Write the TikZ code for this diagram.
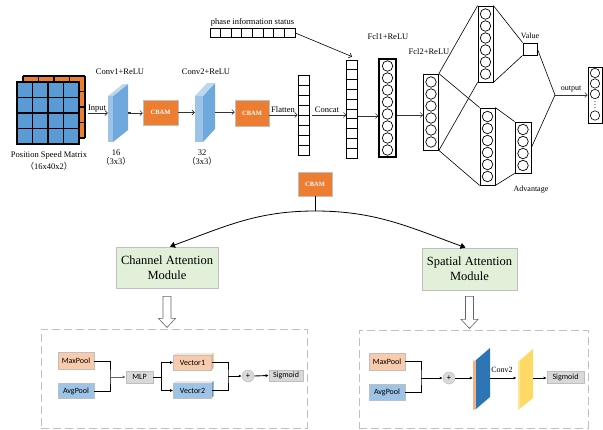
\documentclass[tikz,border=0pt]{standalone}
\usepackage{fontspec}
\setmainfont{Liberation Serif}
\newfontfamily\calfont{Carlito}
\newfontfamily\cjkfont{Noto Sans CJK SC}
\usetikzlibrary{arrows.meta,calc}
\definecolor{mblue}{HTML}{5B9BD5}
\definecolor{morange}{HTML}{ED7D31}
\definecolor{lblue}{HTML}{9DC3E6}
\definecolor{tblue}{HTML}{BDD7EE}
\definecolor{sblue}{HTML}{6FA8DC}
\definecolor{peach}{HTML}{F8CBAD}
\definecolor{lpeach}{HTML}{FBE5D6}
\definecolor{dpeach}{HTML}{F4B183}
\definecolor{vlblue}{HTML}{DEEBF7}
\definecolor{lgray}{HTML}{D9D9D9}
\definecolor{bgray}{HTML}{BFBFBF}
\definecolor{lgreen}{HTML}{E2F0D9}
\definecolor{dblue}{HTML}{2E75B6}
\definecolor{myellow}{HTML}{FFD966}
\definecolor{lyellow}{HTML}{FFE699}
\begin{document}
\begin{tikzpicture}[x=1pt,y=-1pt,
  lbl/.style={font=\fontsize{8.5}{9}\selectfont, inner sep=0pt},
  slbl/.style={font=\fontsize{8}{9}\selectfont, inner sep=0pt},
  cbam/.style={fill=morange, draw=bgray, line width=0.5pt, font=\fontsize{6.5}{7}\selectfont\bfseries, text=white, inner sep=0pt},
  ghost/.style={inner sep=0pt},
  col/.style={draw, line width=0.8pt, fill=white, inner sep=0pt},
  fcbox/.style={draw, line width=1.2pt, fill=white, inner sep=0pt},
  neuron/.style={circle, draw, line width=0.7pt, minimum size=10.5pt, inner sep=0pt},
  oneuron/.style={circle, draw, line width=0.6pt, minimum size=9.4pt, inner sep=0pt},
  arr/.style={draw=black!80, line width=0.6pt, -{Straight Barb[length=2.5pt,width=5pt]}},
  conn/.style={line width=0.6pt},
  mod/.style={draw=bgray, fill=lgreen, line width=0.8pt, align=center, inner sep=0pt, font=\fontsize{12.5}{15}\selectfont},
  hollow/.style={draw=black!60, fill=white, line width=0.6pt},
  dashbox/.style={draw=bgray, line width=0.9pt, dash pattern=on 8pt off 4pt, inner sep=0pt},
  sbox/.style={draw=bgray, line width=0.6pt, inner sep=0pt, font=\calfont\fontsize{8}{8}\selectfont},
  blk/.style={line width=0.9pt},
  barr/.style={line width=0.9pt, -{Latex[length=3pt,width=3pt]}},
  plus/.style={circle, fill=lgray, draw=bgray, line width=0.5pt, minimum size=12pt, inner sep=0pt, font=\calfont\fontsize{8.5}{8.5}\selectfont},
  bigarr/.style={line width=0.8pt, -{Triangle[length=5pt,width=6pt]}}
]
\useasboundingbox (0,0) rectangle (603,429);

% ---------- input matrix
\fill[morange] (23,76) rectangle (85,138);
\foreach \i in {0,...,4}{
  \draw[line width=1.1pt] ({23+15.5*\i},76) -- ({23+15.5*\i},138);
  \draw[line width=1.1pt] (23,{76+15.5*\i}) -- (85,{76+15.5*\i});
}
\node[draw,line width=1.1pt,fill=mblue,minimum size=62pt,inner sep=0pt] (mat) at (48,113) {};
\foreach \i in {1,2,3}{
  \draw[line width=1.1pt] ({17+15.5*\i},82) -- ({17+15.5*\i},144);
  \draw[line width=1.1pt] (17,{82+15.5*\i}) -- (79,{82+15.5*\i});
}
\node[lbl] (matl) at (49,155) {Position Speed Matrix};
\node[lbl] (matd) at (49,166) {{\cjkfont （}16x40x2{\cjkfont ）}};

% ---------- conv1
\node[ghost,minimum width=20pt,minimum height=58pt] (c1) at (118,113) {};
\fill[lblue] (108,96) rectangle (113,142);
\fill[sblue] (113,96) -- (128,84) -- (128,130) -- (113,142) -- cycle;
\fill[tblue] (108,96) -- (113,96) -- (128,84) -- (123,84) -- cycle;
\node[lbl] (c1l) at (120,72) {Conv1+ReLU};
\node[lbl] (c1n) at (116,153) {16};
\node[lbl] (c1k) at (116,161) {{\cjkfont （}3x3{\cjkfont ）}};

% ---------- conv2
\node[ghost,minimum width=20pt,minimum height=59pt] (c2) at (205,112) {};
\fill[lblue] (195,96) rectangle (203,142);
\fill[sblue] (203,96) -- (215,83) -- (215,129) -- (203,142) -- cycle;
\fill[tblue] (195,96) -- (203,96) -- (215,83) -- (207,83) -- cycle;
\node[lbl] (c2l) at (206,72) {Conv2+ReLU};
\node[lbl] (c2n) at (202,153) {32};
\node[lbl] (c2k) at (202,161) {{\cjkfont （}3x3{\cjkfont ）}};

% ---------- CBAM blocks
\node[cbam,minimum width=35pt,minimum height=25pt] (cb1) at (160.5,112.5) {CBAM};
\node[cbam,minimum width=34pt,minimum height=26pt] (cb2) at (252,113) {CBAM};

% ---------- flatten column
\node[col,minimum width=11pt,minimum height=80pt] (flat) at (303.5,115) {};
\foreach \k in {1,...,7} \draw[line width=0.8pt] (298,{75+10*\k}) -- (309,{75+10*\k});

% ---------- concat column
\node[col,minimum width=10.5pt,minimum height=98pt] (cat) at (352,109) {};
\foreach \k in {1,...,9} \draw[line width=0.8pt] (346.75,{60+9.8*\k}) -- (357.25,{60+9.8*\k});

% ---------- phase row
\node[col,minimum width=85pt,minimum height=9pt] (phase) at (252.5,33) {};
\foreach \k in {1,...,7} \draw[line width=0.8pt] ({210+85/8*\k},28.5) -- ({210+85/8*\k},37.5);
\node[lbl] (phasel) at (252.5,22) {phase information status};

% ---------- arrows top row
\draw[arr] ([xshift=8pt]mat.east) -- (c1.west);
\node[lbl,anchor=base] (inl) at (97,110) {Input};
\draw[arr,{Square[length=2pt,width=2pt]}-{Straight Barb[length=2.5pt,width=5pt]}] (c1.east) -- (c1.east -| cb1.west);
\draw[arr] (cb1.east) -- (cb1.east -| c2.west);
\draw[arr] (c2.east) -- (c2.east -| cb2.west);
\draw[arr] (cb2.east |- flat.west) -- (flat.west);
\node[lbl,anchor=base] (flatl) at (283,112) {Flatten};
\draw[arr] ([xshift=3pt]flat.east) -- (flat.east -| cat.west);
\node[lbl,anchor=base] (catl) at (327,112) {Concat};
\draw[arr,draw=black] (phase.east) -- ([yshift=3pt]cat.north);

% ---------- FC1
\node[fcbox,minimum width=17pt,minimum height=98pt] (fc1) at (387.5,108) {};
\foreach \k in {0,...,7} \node[neuron] (fa\k) at (387.5,{66+12*\k}) {};
\node[lbl] (fc1l) at (388,37) {Fcl1+ReLU};
\draw[arr] ([yshift=-7pt]cat.east) -- ([yshift=-7pt]cat.east -| fc1.west);

% ---------- FC2
\node[col,minimum width=15pt,minimum height=76pt] (fc2) at (431,112) {};
\foreach \k in {0,...,5} \node[neuron] (fb\k) at (431,{82+12*\k}) {};
\node[lbl] (fc2l) at (429,52) {Fcl2+ReLU};
\draw[arr] ([yshift=-3pt]fc2.west -| fc1.east) -- ([yshift=-3pt]fc2.west);

% ---------- value stream
\node[col,minimum width=15pt,minimum height=76pt] (vh) at (485.5,44) {};
\foreach \k in {0,...,5} \node[neuron] (fv\k) at (485.5,{14+12*\k}) {};
\node[draw,line width=0.8pt,fill=white,minimum width=14pt,minimum height=12pt,inner sep=0pt] (val) at (530,49) {};
\node[slbl] (vall) at (530,36) {Value};

% ---------- advantage stream
\node[col,minimum width=15pt,minimum height=77pt] (ah) at (487.5,146.5) {};
\foreach \k in {0,...,5} \node[neuron] (fh\k) at (487.5,{116.5+12*\k}) {};
\node[col,minimum width=16pt,minimum height=51pt] (ao) at (523,147.5) {};
\foreach \k in {0,...,3} \node[neuron] (fo\k) at (523,{129.5+12*\k}) {};
\node[slbl] (advl) at (531,190) {Advantage};

% ---------- dueling lines
\draw[conn] (fc2.north east) -- (vh.north west);
\draw[conn] (fc2.north east) -- (ah.north west);
\draw[conn] (fc2.south east) -- (vh.south west);
\draw[conn] (fc2.south east) -- (ah.south west);
\draw[conn] (vh.north east) -- (val.north west);
\draw[conn] (vh.south east) -- (val.south west);
\draw[conn] (ah.north east) -- (ao.north west);
\draw[conn] (ah.south east) -- (ao.south west);
\coordinate (mrg) at (555,95);
\draw[conn] (val.east) -- (mrg);
\draw[conn] (ao.east) -- (mrg);

% ---------- output
\node[draw,line width=0.6pt,fill=white,minimum width=14pt,minimum height=56pt,inner sep=0pt] (out) at (595,95) {};
\foreach \k in {0,1,2} \node[oneuron] (fq\k) at (595,{73+10.5*\k}) {};
\node[oneuron] (fq3) at (595,115.5) {};
\foreach \d in {101.6,104.6,107.6} \fill (595,\d) circle (0.55pt);
\draw[arr] (mrg) -- (mrg -| out.west);
\node[slbl] (outl) at (571,89) {output};

% ---------- CBAM detail
\node[cbam,minimum width=34pt,minimum height=24pt] (cb3) at (315,184) {CBAM};
\coordinate (split) at (315,211);
\draw[line width=0.8pt] (cb3.south) -- (split);
\node[mod,minimum width=102pt,minimum height=41pt] (cam) at (167,267.5) {Channel Attention\\Module};
\node[mod,minimum width=95pt,minimum height=42pt] (sam) at (469.5,269) {Spatial Attention\\Module};
\draw[bigarr] (split) to[out=180,in=20] ([xshift=3pt]cam.north);
\draw[bigarr] (split) to[out=0,in=160] ([xshift=-4pt]sam.north);

% hollow arrows
\coordinate (ha1) at ([yshift=-8pt]cam.south);
\coordinate (ha2) at ([yshift=-6pt]sam.south);
\draw[hollow] ($(ha1)+(-4,0)$) -- ++(8,0) -- ++(0,22) -- ++(4.5,0) -- ++(-8.5,9) -- ++(-8.5,-9) -- ++(4.5,0) -- cycle;
\draw[hollow] ($(ha2)+(-4,0)$) -- ++(8,0) -- ++(0,23) -- ++(4.5,0) -- ++(-8.5,9) -- ++(-8.5,-9) -- ++(4.5,0) -- cycle;

% dashed frames
\node[dashbox,minimum width=266pt,minimum height=99pt] (ldb) at (174,378.5) {};
\node[dashbox,minimum width=229pt,minimum height=98pt] (rdb) at (473.5,379) {};

% ---------- channel attention
\node[sbox,fill=peach,minimum width=36pt,minimum height=17pt] (mp1) at (76,361) {MaxPool};
\node[sbox,fill=lblue,minimum width=36pt,minimum height=15pt] (ap1) at (76,391) {AvgPool};
\node[sbox,fill=lgray,minimum width=27pt,minimum height=12pt] (mlp) at (139.5,377) {MLP};
\fill[lpeach] (173.5,355) -- (175.5,353) -- (213.5,353) -- (211.5,355) -- cycle;
\fill[dpeach] (211.5,355) -- (213.5,353) -- (213.5,368) -- (211.5,370) -- cycle;
\node[sbox,fill=peach,minimum width=38pt,minimum height=15pt] (v1) at (192.5,362.5) {Vector1};
\fill[vlblue] (173.5,383) -- (175.5,381) -- (213.5,381) -- (211.5,383) -- cycle;
\fill[mblue] (211.5,383) -- (213.5,381) -- (213.5,396) -- (211.5,398) -- cycle;
\node[sbox,fill=lblue,minimum width=38pt,minimum height=15pt] (v2) at (192.5,390.5) {Vector2};
\node[plus] (pl1) at (248,376) {+};
\node[sbox,fill=lgray,minimum width=34pt,minimum height=11pt] (sg1) at (286,375.5) {Sigmoid};
\coordinate (j1) at (110,377);
\coordinate (j2) at (161.5,377);
\coordinate (j3) at (228,376);
\draw[blk] (mp1.east) -| (j1) |- (ap1.east);
\draw[barr,draw=black!60] (j1) -- (mlp.west);
\draw[blk] (mlp.east) -- (j2);
\draw[barr] (j2) |- (v1.west);
\draw[barr] (j2) |- (v2.west);
\draw[blk] (v1.east) -| (j3) |- (v2.east);
\draw[barr] (j3) -- (pl1.west);
\draw[barr] (pl1.east) -- (sg1.west);

% ---------- spatial attention
\node[sbox,fill=peach,minimum width=36pt,minimum height=17pt] (mp2) at (387,361.5) {MaxPool};
\node[sbox,fill=lblue,minimum width=36pt,minimum height=16pt] (ap2) at (387,392) {AvgPool};
\node[plus] (pl2) at (449,378) {+};
\node[ghost,minimum width=17pt,minimum height=61pt] (s1) at (481.5,378.5) {};
\fill[dpeach] (473,361) -- (476,360) -- (476,409) -- (473,410) -- cycle;
\fill[dblue] (476,360) -- (490,348) -- (490,397) -- (476,409) -- cycle;
\node[slbl] (convl) at (502,370) {Conv2};
\node[ghost,minimum width=15pt,minimum height=61pt] (s2) at (525.5,379.5) {};
\fill[myellow] (518,362) -- (533,349) -- (533,398) -- (518,410) -- cycle;
\fill[lyellow] (518,362) -- (520,360.3) -- (520,408.3) -- (518,410) -- cycle;
\node[sbox,fill=lgray,minimum width=37pt,minimum height=12pt] (sg2) at (565.5,377.5) {Sigmoid};
\coordinate (j4) at (421,378);
\draw[blk] (mp2.east) -| (j4) |- (ap2.east);
\draw[barr] (j4) -- (pl2.west);
\draw[barr] (pl2.east) -- (pl2.east -| s1.west);
\draw[barr] (490,378) -- (516.5,378);
\draw[barr] (533,378) -- (sg2.west |- 0,378);
\end{tikzpicture}
\end{document}
